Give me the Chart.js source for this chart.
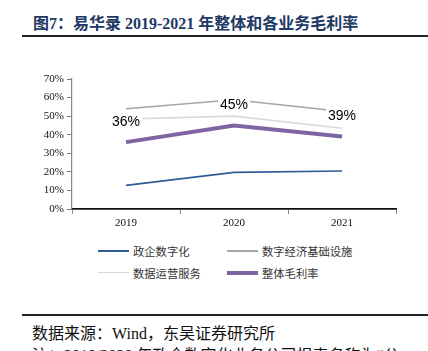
<!DOCTYPE html>
<html>
<head>
<meta charset="utf-8">
<script src="https://cdn.jsdelivr.net/npm/chart.js@4"></script>
<style>
  body { margin: 0; width: 428px; height: 351px; overflow: hidden; background: #fff; position: relative; }
  #title { position: absolute; left: 33px; top: 10px; font: bold 16px "Liberation Serif", "Noto Sans CJK SC"; color: #203864; white-space: nowrap; }
  #rule1 { position: absolute; left: 22px; top: 35px; width: 406px; height: 2px; background: #222; }
  #box { position: absolute; left: 0; top: 60px; width: 428px; height: 170px; }
  #legend { position: absolute; left: 0; top: 240px; width: 428px; height: 45px; font: 11.3px "Noto Sans CJK SC"; color: #333; }
  .item { position: absolute; display: flex; align-items: center; white-space: nowrap; }
  .swatch { width: 31px; margin-right: 4px; }
  #rule2 { position: absolute; left: 22px; top: 314px; width: 406px; height: 1.5px; background: #222; }
  #source { position: absolute; left: 32px; top: 320px; font: 16px "Liberation Serif", "Noto Sans CJK SC"; color: #111; white-space: nowrap; }
  #note { position: absolute; left: 32px; top: 342px; font: 16px "Liberation Serif", "Noto Sans CJK SC"; color: #111; white-space: nowrap; }
</style>
</head>
<body>
<div id="title">图7：易华录 2019-2021 年整体和各业务毛利率</div>
<div id="rule1"></div>
<div id="box"><canvas id="chart"></canvas></div>
<div id="legend"></div>
<div id="rule2"></div>
<div id="source">数据来源：Wind，东吴证券研究所</div>
<div id="note">注：2019/2020 年政企数字化业务公司报表名称为“公</div>
<script>
const years = ['2019', '2020', '2021'];
const seriesNames = ['政企数字化', '数字经济基础设施', '数据运营服务', '整体毛利率'];
const govDigital = [12.7, 19.7, 20.5];
const infra = [54.0, 58.8, 52.5];
const dataOps = [48.5, 50.0, 43.5];
const overall = [36, 45, 39];
const yTicks = [0, 10, 20, 30, 40, 50, 60, 70];

const colors = ['#2f5b97', '#a6a6a6', '#d9d9d9', '#8064a2'];
const widths = [1.6, 1.6, 1.6, 4];
const values = [govDigital, infra, dataOps, overall];

const labelPlugin = {
    id: 'overallLabels',
    afterDatasetsDraw(chart) {
        const ctx = chart.ctx;
        const meta = chart.getDatasetMeta(3);
        ctx.save();
        ctx.font = '14px "Liberation Sans"';
        ctx.textAlign = 'center';
        ctx.textBaseline = 'middle';
        meta.data.forEach((pt, i) => {
            const txt = overall[i] + '%';
            const w = ctx.measureText(txt).width;
            const y = pt.y - 20;
            ctx.fillStyle = '#fff';
            ctx.fillRect(pt.x - w / 2 - 2, y - 8, w + 4, 16);
            ctx.fillStyle = '#000';
            ctx.fillText(txt, pt.x, y);
        });
        ctx.restore();
    }
};

const serif = "'Liberation Serif', 'Times New Roman', serif";

const chart = new Chart(document.getElementById('chart').getContext('2d'), {
    type: 'line',
    data: {
        labels: years,
        datasets: values.map((v, i) => ({
            label: seriesNames[i],
            data: v,
            borderColor: colors[i],
            backgroundColor: colors[i],
            borderWidth: widths[i],
            pointRadius: 0,
            tension: 0,
            order: i === 3 ? 0 : 1
        }))
    },
    options: {
        responsive: true,
        maintainAspectRatio: false,
        animation: false,
        layout: { padding: { left: 0, right: 32, top: 19, bottom: 0 } },
        plugins: { legend: { display: false }, tooltip: { enabled: false } },
        scales: {
            x: {
                offset: true,
                grid: { offset: true, drawOnChartArea: false, drawTicks: true, tickLength: 5, color: '#888' },
                border: { color: '#111', width: 1.8 },
                ticks: { color: '#111', padding: 3, font: { family: serif, size: 11 } },
                afterFit: s => { s.height = 21; }
            },
            y: {
                min: 0,
                max: 70,
                afterBuildTicks: s => { s.ticks = yTicks.map(v => ({ value: v })); },
                grid: { drawOnChartArea: false, drawTicks: true, tickLength: 5, color: '#777' },
                border: { color: '#888', width: 1.2 },
                ticks: { color: '#111', padding: 3, font: { family: serif, size: 11 }, callback: v => v + '%' },
                afterFit: s => { s.width = 72; }
            }
        }
    },
    plugins: [labelPlugin]
});

// legend in two columns
const legendPos = [[98, 0], [227, 0], [98, 1], [227, 1]];
const legend = document.getElementById('legend');
chart.data.datasets.forEach((ds, idx) => {
    const item = document.createElement('div');
    item.className = 'item';
    item.style.left = legendPos[idx][0] + 'px';
    item.style.top = (legendPos[idx][1] * 21.5 + 3) + 'px';
    const sw = document.createElement('span');
    sw.className = 'swatch';
    sw.style.height = (idx === 3 ? 4 : 1.6) + 'px';
    sw.style.background = ds.borderColor;
    const tx = document.createElement('span');
    tx.textContent = ds.label;
    item.appendChild(sw);
    item.appendChild(tx);
    legend.appendChild(item);
});
</script>
</body>
</html>
